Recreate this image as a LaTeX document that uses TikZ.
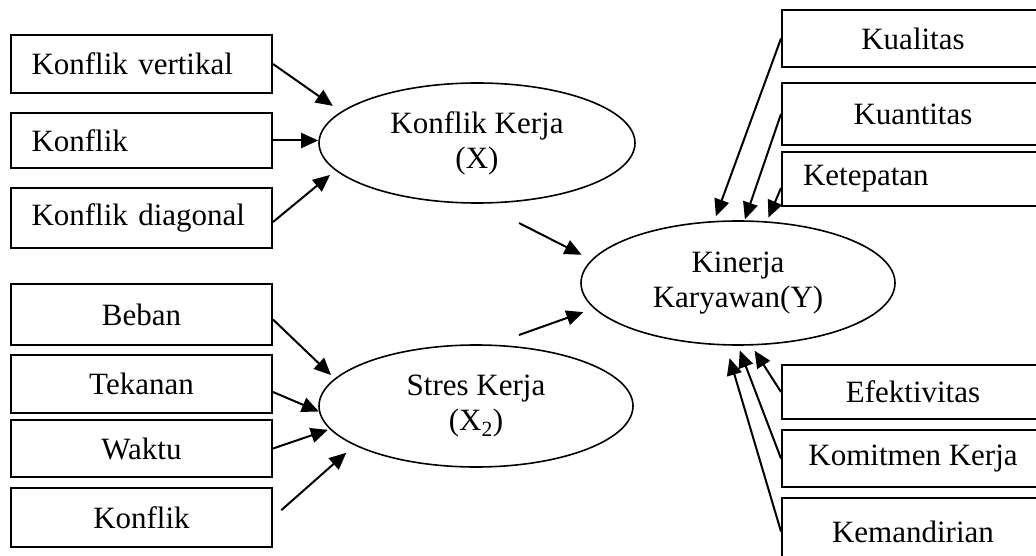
\documentclass[tikz,border=0pt]{standalone}
\usepackage{fontspec}
\setmainfont{Liberation Serif}
\usetikzlibrary{arrows.meta, shapes.geometric}

\tikzset{
    ind/.style={draw, line width=2pt, inner sep=0pt, minimum width=261pt},
    lat/.style={draw, ellipse, line width=1.6pt, align=center, inner sep=0pt},
    arr/.style={line width=2pt, -{Triangle[length=17pt,width=15pt]}}
}

\begin{document}
\begin{tikzpicture}[x=1pt, y=-1pt, font=\fontsize{31}{35}\selectfont]
        \useasboundingbox (0,0) rectangle (1036,556);
        \clip (0,0) rectangle (1036,556);

        % indikator konflik kerja
        \node[ind, minimum height=58pt, text width=220pt] (kv) at (141.5, 64) {Konflik vertikal};
        \node[ind, minimum height=55pt, text width=220pt] (kh) at (141.5, 140.5) {Konflik};
        \node[ind, minimum height=60pt, text width=220pt] (kd) at (141.5, 218) {Konflik diagonal};

        % indikator stres kerja
        \node[ind, minimum height=61pt] (sb) at (141.5, 314.5) {Beban};
        \node[ind, minimum height=58pt] (st) at (141.5, 384) {Tekanan};
        \node[ind, minimum height=57pt] (sw) at (141.5, 448.5) {Waktu};
        \node[ind, minimum height=59pt] (sk) at (141.5, 517.5) {Konflik};

        % variabel laten
        \node[lat, minimum width=316pt, minimum height=120pt] (kk) at (477, 143) {Konflik Kerja\\(X)};
        \node[lat, minimum width=314pt, minimum height=122pt] (ss) at (476, 406) {Stres Kerja\\(X\textsubscript{2})};
        \node[lat, minimum width=314pt, minimum height=124pt] (ky) at (738, 283) {Kinerja\\Karyawan(Y)};

        % indikator kinerja
        \node[ind, minimum width=262pt, minimum height=57pt] (yq) at (913, 38.5) {Kualitas};
        \node[ind, minimum width=262pt, minimum height=62pt] (yk) at (913, 114) {Kuantitas};
        \node[ind, minimum width=262pt, minimum height=54pt, text width=220pt] (yt) at (913, 179) {Ketepatan};
        \node[ind, minimum width=262pt, minimum height=54pt] (ye) at (913, 392) {Efektivitas};
        \node[ind, minimum width=262pt, minimum height=57pt] (yc) at (913, 458.5) {Komitmen Kerja};
        \node[ind, minimum width=262pt, minimum height=67pt] (ym) at (913, 531.5) {Kemandirian};

        \coordinate (m1) at (519, 223);
        \coordinate (m2) at (519, 335);

        \draw[arr, shorten >=10pt] (kv.east) -- (kk.167);
        \draw[arr] (kh.east) -- (kh.east -| kk.west);
        \draw[arr, shorten >=7pt] ([yshift=-4pt]kd.east) -- (kk.191);

        \draw[arr, shorten >=5pt] ([yshift=-5pt]sb.east) -- (ss.169);
        \draw[arr] ([yshift=-8pt]st.east) -- (ss.182);
        \draw[arr, shorten >=2pt] (sw.east) -- (ss.189);
        \draw[arr, shorten <=11pt, shorten >=11pt] (sk.east) -- (ss.198);

        \draw[arr, shorten >=11pt] (m1) -- (ky.171);
        \draw[arr, shorten >=11pt] (m2) -- (ky.190);

        \draw[arr, shorten >=5pt] (yq.west) -- (ky.111);
        \draw[arr, shorten >=1pt] (yk.west) -- (ky.84);
        \draw[arr, shorten >=4pt] ([yshift=-9pt]yt.west) -- (ky.65);
        \draw[arr, shorten >=6pt] (ye.west) -- (ky.282);
        \draw[arr, shorten >=5pt] (yc.west) -- (ky.270);
        \draw[arr, shorten >=13pt] (ym.west) -- (ky.259);
\end{tikzpicture}
\end{document}
